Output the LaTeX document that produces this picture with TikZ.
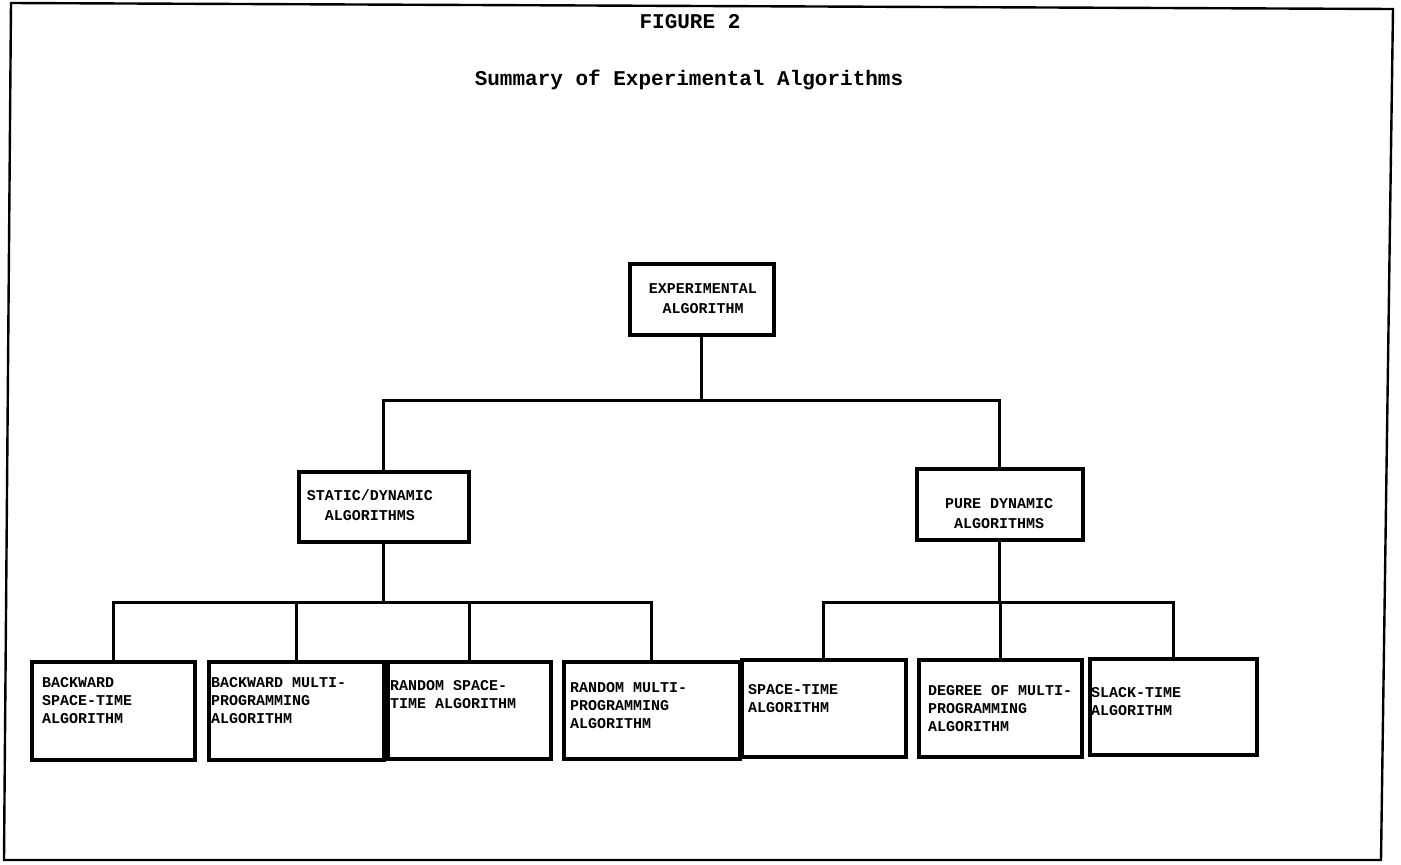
\documentclass[tikz,border=0pt]{standalone}
\usepackage{fontspec}
\setmonofont{Liberation Mono}
\usetikzlibrary{positioning,calc}
\tikzset{
  blk/.style ={draw,line width=3.5pt,inner sep=0pt,anchor=north west},
  txt/.style ={align=left,inner sep=0pt,anchor=north west,
               font=\fontsize{15}{18}\selectfont\ttfamily\bfseries},
  ctxt/.style={align=center,inner sep=0pt,anchor=north,
               font=\fontsize{15}{20}\selectfont\ttfamily\bfseries},
  ttl/.style ={inner sep=0pt,font=\fontsize{21}{25}\selectfont\ttfamily\bfseries},
  cn/.style  ={line width=3pt},
  frm/.style ={line width=2.4pt,line join=miter},
}

\begin{document}
\begin{tikzpicture}[x=1pt,y=-1pt]
\useasboundingbox (0,0) rectangle (1401,865);
\draw[frm] (11,3) -- (1393,9) -- (1381,860) -- (4,860) -- cycle;
\node[ttl] (fig) at (690,22) {FIGURE 2};
\node[ttl] (sum) at (689,80) {Summary of Experimental Algorithms};

% top and second level
\node[blk,minimum width=144pt,minimum height=71pt] (exp) at (628,262) {};
\node[ctxt] (expt) at (703,283.5) {EXPERIMENTAL\\ALGORITHM};
\node[blk,minimum width=170pt,minimum height=70pt] (sd) at (297,470) {};
\node[ctxt] (sdt) at (370,489.5) {STATIC/DYNAMIC\\ALGORITHMS};
\node[blk,minimum width=166pt,minimum height=71pt] (pd) at (915,467) {};
\node[ctxt] (pdt) at (999,498.5) {PURE DYNAMIC\\ALGORITHMS};

% bottom row
\node[blk,minimum width=163pt,minimum height=98pt] (b1) at (30,660) {};
\node[blk,minimum width=175pt,minimum height=98pt] (b2) at (207,660) {};
\node[blk,minimum width=163pt,minimum height=97pt] (b3) at (386,660) {};
\node[blk,minimum width=176pt,minimum height=97pt] (b4) at (562,660) {};
\node[blk,minimum width=164pt,minimum height=97pt] (b5) at (740,658) {};
\node[blk,minimum width=163pt,minimum height=97pt] (b6) at (917,658) {};
\node[blk,minimum width=167pt,minimum height=96pt] (b7) at (1088,657) {};
\node[txt] (t1) at (42,677) {BACKWARD\\SPACE-TIME\\ALGORITHM};
\node[txt] (t2) at (211,677) {BACKWARD MULTI-\\PROGRAMMING\\ALGORITHM};
\node[txt] (t3) at (390,680) {RANDOM SPACE-\\TIME ALGORITHM};
\node[txt] (t4) at (570,682) {RANDOM MULTI-\\PROGRAMMING\\ALGORITHM};
\node[txt] (t5) at (748,684) {SPACE-TIME\\ALGORITHM};
\node[txt] (t6) at (928,685) {DEGREE OF MULTI-\\PROGRAMMING\\ALGORITHM};
\node[txt] (t7) at (1091,687) {SLACK-TIME\\ALGORITHM};

% connectors
\coordinate (j1) at (exp.south |- 0,400);
\coordinate (j2) at (sd.south |- 0,602);
\coordinate (j3) at (pd.south |- 0,602);
\draw[cn] (exp) -- (j1);
\draw[cn] (sd) |- (j1) -| (pd);
\draw[cn] (sd) -- (j2);
\draw[cn] (b1) |- (j2) -| (b4);
\draw[cn] (b2) -- (b2 |- j2);
\draw[cn] (b3) -- (b3 |- j2);
\draw[cn] (pd) -- (j3);
\draw[cn] (b5) |- (j3) -| (b7);
\draw[cn] (b6) -- (b6 |- j3);
\end{tikzpicture}
\end{document}
